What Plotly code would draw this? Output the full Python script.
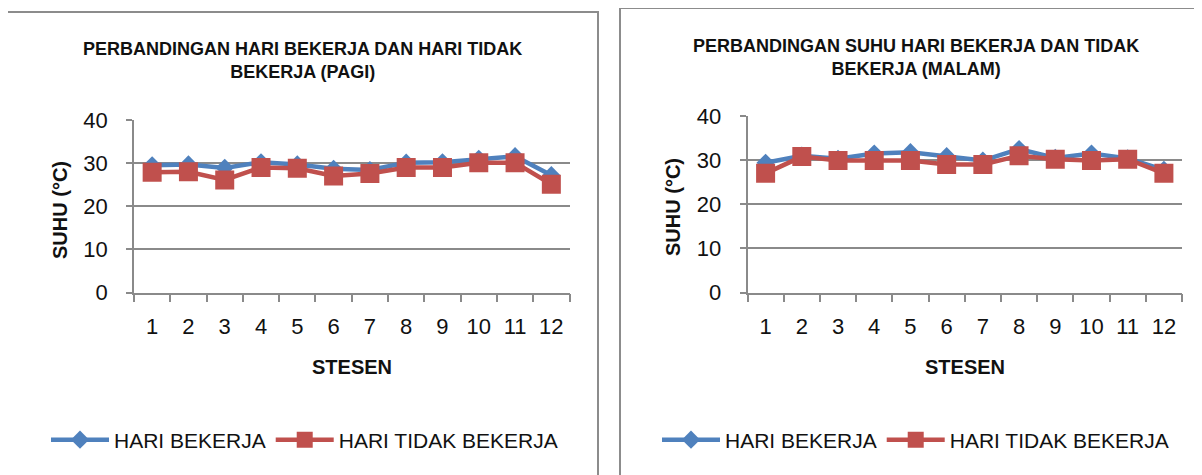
import plotly.graph_objects as go

# ---------------- data ----------------
stesen = ["1", "2", "3", "4", "5", "6", "7", "8", "9", "10", "11", "12"]

pagi_bekerja = [29.5, 29.7, 28.9, 30.2, 29.7, 28.7, 28.4, 30.1, 30.2, 31.0, 31.6, 27.2]
pagi_tidak_bekerja = [27.9, 28.0, 26.1, 29.0, 28.8, 27.0, 27.6, 29.0, 29.0, 30.1, 30.1, 25.1]

malam_bekerja = [29.4, 31.0, 30.3, 31.5, 31.8, 30.9, 29.9, 32.5, 30.5, 31.5, 30.4, 27.8]
malam_tidak_bekerja = [27.0, 30.8, 29.9, 29.9, 29.9, 29.0, 29.0, 31.0, 30.2, 29.9, 30.2, 27.0]

series_names = ["HARI BEKERJA", "HARI TIDAK BEKERJA"]
title_left = "PERBANDINGAN HARI BEKERJA DAN HARI TIDAK<br>BEKERJA (PAGI)"
title_right = "PERBANDINGAN SUHU HARI BEKERJA DAN TIDAK<br>BEKERJA (MALAM)"
y_title = "SUHU (°C)"
x_title = "STESEN"

# ---------------- style ----------------
OFF = 8                      # page body margin
W, H = 1202 - OFF, 475 - OFF
BLUE = "#4F81BD"
RED = "#C0504D"
GRID = "#8A8A8A"
FONT = "Liberation Sans, Arial, sans-serif"


def px_x(x):
    """screen pixel -> paper fraction"""
    return (x - OFF) / W


def px_y(y):
    return 1 - (y - OFF) / H


fig = go.Figure()

panels = [
    dict(xa="x", ya="y", legend="legend", b=pagi_bekerja, r=pagi_tidak_bekerja),
    dict(xa="x2", ya="y2", legend="legend2", b=malam_bekerja, r=malam_tidak_bekerja),
]
for p in panels:
    fig.add_trace(go.Scatter(
        x=stesen, y=p["b"], name=series_names[0], mode="lines+markers",
        line=dict(color=BLUE, width=4.5),
        marker=dict(symbol="diamond", size=14, color=BLUE),
        xaxis=p["xa"], yaxis=p["ya"], legend=p["legend"],
    ))
    fig.add_trace(go.Scatter(
        x=stesen, y=p["r"], name=series_names[1], mode="lines+markers",
        line=dict(color=RED, width=4.5),
        marker=dict(symbol="square", size=19, color=RED),
        xaxis=p["xa"], yaxis=p["ya"], legend=p["legend"],
    ))

xaxis_common = dict(
    type="category", tickson="boundaries", ticks="outside", ticklen=8,
    tickcolor=GRID, tickwidth=1.5, showline=True, linecolor=GRID, linewidth=1.5,
    showgrid=False, zeroline=False, ticklabelstandoff=13, automargin=False,
    tickfont=dict(family=FONT, size=22, color="#111"), range=[-0.5, 11.5],
)
yaxis_common = dict(
    range=[0, 40], dtick=10, tick0=0, ticks="outside", ticklen=6,
    tickcolor=GRID, tickwidth=1.5, showline=True, linecolor=GRID, linewidth=1.5,
    showgrid=True, gridcolor=GRID, gridwidth=1.6, zeroline=False, automargin=False,
    ticklabelstandoff=14, tickfont=dict(family=FONT, size=22, color="#111"),
)

legend_common = dict(orientation="h", xanchor="left", yanchor="middle",
                     font=dict(family=FONT, size=21, color="#111"),
                     bgcolor="rgba(0,0,0,0)", itemwidth=58)

fig.update_layout(
    width=W, height=H,
    margin=dict(l=0, r=0, t=0, b=0, pad=0, autoexpand=False),
    paper_bgcolor="white", plot_bgcolor="white",
    xaxis=dict(domain=[px_x(134), px_x(569.5)], anchor="y", **xaxis_common),
    yaxis=dict(domain=[px_y(292.5), px_y(120)], anchor="x", **yaxis_common),
    xaxis2=dict(domain=[px_x(747.5), px_x(1182)], anchor="y2", **xaxis_common),
    yaxis2=dict(domain=[px_y(292.5), px_y(116)], anchor="x2", **yaxis_common),
    legend=dict(x=px_x(46), y=px_y(440), **legend_common),
    legend2=dict(x=px_x(657), y=px_y(440), **legend_common),
    showlegend=True,
)

# chart frames
fig.add_shape(type="rect", xref="paper", yref="paper",
              x0=px_x(7), x1=px_x(598), y0=px_y(490), y1=px_y(12),
              line=dict(color="#8C8C8C", width=2), fillcolor="rgba(0,0,0,0)", layer="below")
fig.add_shape(type="rect", xref="paper", yref="paper",
              x0=px_x(620), x1=px_x(1215), y0=px_y(490), y1=px_y(8),
              line=dict(color="#8C8C8C", width=2), fillcolor="rgba(0,0,0,0)", layer="below")

# titles
for txt, cx, cy in [(title_left, 302, 61), (title_right, 916, 57)]:
    fig.add_annotation(text="<b>" + txt + "</b>", xref="paper", yref="paper",
                       x=px_x(cx), y=px_y(cy), xanchor="center", yanchor="middle",
                       showarrow=False, align="center",
                       font=dict(family=FONT, size=18, color="#111"))

# axis titles
for cx, cy in [(60, 210), (673, 207)]:
    fig.add_annotation(text="<b>" + y_title + "</b>", xref="paper", yref="paper",
                       x=px_x(cx), y=px_y(cy), xanchor="center", yanchor="middle",
                       showarrow=False, textangle=-90,
                       font=dict(family=FONT, size=20, color="#111"))
for cx, cy in [(352, 367), (965, 367)]:
    fig.add_annotation(text="<b>" + x_title + "</b>", xref="paper", yref="paper",
                       x=px_x(cx), y=px_y(cy), xanchor="center", yanchor="middle",
                       showarrow=False,
                       font=dict(family=FONT, size=20, color="#111"))

fig.write_html("out.html")
